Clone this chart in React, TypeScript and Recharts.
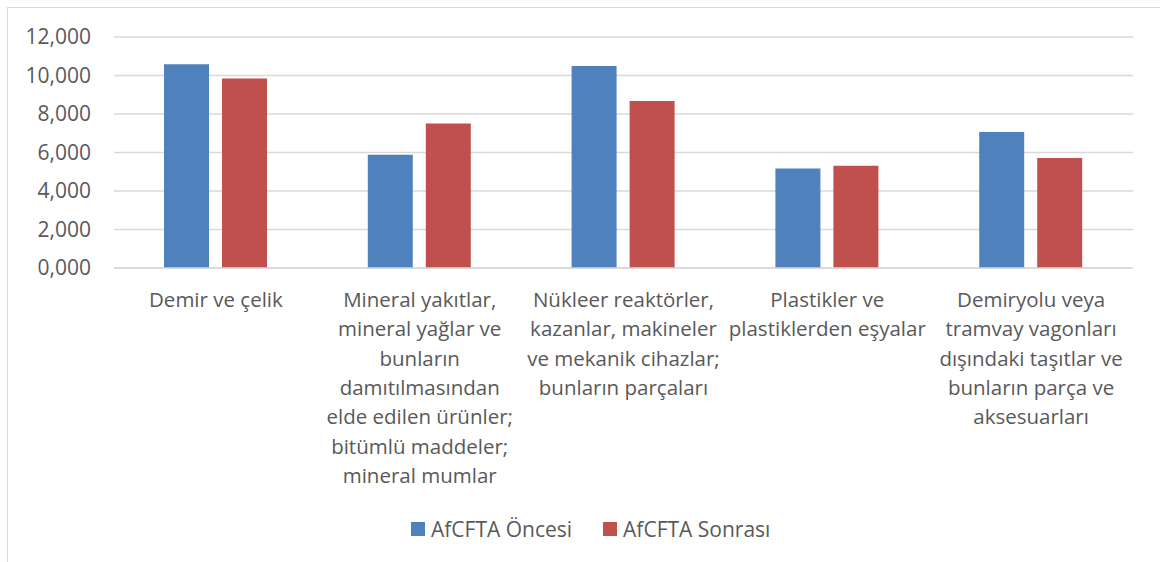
import React from "react";
import { BarChart, Bar, XAxis, YAxis, CartesianGrid, Legend } from "recharts";

const categories: string[][] = [
  ["Demir ve çelik"],
  ["Mineral yakıtlar,", "mineral yağlar ve", "bunların", "damıtılmasından", "elde edilen ürünler;", "bitümlü maddeler;", "mineral mumlar"],
  ["Nükleer reaktörler,", "kazanlar, makineler", "ve mekanik cihazlar;", "bunların parçaları"],
  ["Plastikler ve", "plastiklerden eşyalar"],
  ["Demiryolu veya", "tramvay vagonları", "dışındaki taşıtlar ve", "bunların parça ve", "aksesuarları"],
];
const oncesi: number[] = [10.58, 5.88, 10.49, 5.17, 7.06];
const sonrasi: number[] = [9.85, 7.51, 8.67, 5.31, 5.72];
const yTicks: number[] = [0, 2, 4, 6, 8, 10, 12];
const seriesNames = ["AfCFTA Öncesi", "AfCFTA Sonrası"];
const colors = ["#4F81BD", "#C0504D"];

const data = categories.map((c, i) => ({
  key: String(i),
  oncesi: oncesi[i],
  sonrasi: sonrasi[i],
}));

const FONT = "'Open Sans', sans-serif";
const TXT = "#595959";

const fmt = (v: number) => v.toFixed(3).replace(".", ",");

const XTick = (props: any) => {
  const { x, y, payload } = props;
  const lines = categories[Number(payload.value)] || [];
  return (
    <text x={x} y={y} textAnchor="middle" fill={TXT} fontFamily={FONT} fontSize={20.5}>
      {lines.map((l, i) => (
        <tspan key={i} x={x} y={y + 39 + i * 29.3}>
          {l}
        </tspan>
      ))}
    </text>
  );
};

const LegendContent = () => (
  <div style={{ height: 40, display: "flex", justifyContent: "flex-start", alignItems: "flex-start", fontFamily: FONT, fontSize: 21, color: TXT, paddingLeft: 397, boxSizing: "border-box" }}>
    {seriesNames.map((n, i) => (
      <div key={n} style={{ display: "flex", alignItems: "center", marginLeft: i === 0 ? 0 : 31, height: 14 }}>
        <div style={{ width: 14, height: 14, background: colors[i], marginRight: 6 }} />
        <span style={{ lineHeight: "14px", whiteSpace: "nowrap" }}>{n}</span>
      </div>
    ))}
  </div>
);

export default function App() {
  return (
    <div style={{ position: "absolute", left: 0, top: 0, width: 1160, height: 562, overflow: "hidden", background: "#fff" }}>
      <div style={{ position: "absolute", left: 7, top: 7, width: 1170, height: 570, border: "1px solid #d9d9d9", boxSizing: "border-box" }} />
      <div style={{ position: "absolute", left: 0, top: 0 }}>
        <BarChart
          width={1160}
          height={562}
          data={data}
          margin={{ top: 37, right: 27, left: 14, bottom: 0 }}
          barSize={45}
          barGap={13}
        >
          <CartesianGrid vertical={false} stroke="#d9d9d9" strokeWidth={1.3} />
          <XAxis
            dataKey="key"
            height={254}
            axisLine={{ stroke: "#d9d9d9", strokeWidth: 1.3 }}
            tickLine={false}
            tickSize={0}
            tickMargin={0}
            interval={0}
            tick={<XTick />}
          />
          <YAxis
            width={100}
            domain={[0, 12]}
            ticks={yTicks}
            tickFormatter={fmt}
            axisLine={false}
            tickLine={false}
            tickSize={0}
            tickMargin={23}
            tick={{ fill: TXT, fontFamily: FONT, fontSize: 21 }}
          />
          <Legend verticalAlign="bottom" content={<LegendContent />} />
          <Bar dataKey="oncesi" name={seriesNames[0]} fill={colors[0]} isAnimationActive={false} />
          <Bar dataKey="sonrasi" name={seriesNames[1]} fill={colors[1]} isAnimationActive={false} />
        </BarChart>
      </div>
    </div>
  );
}
